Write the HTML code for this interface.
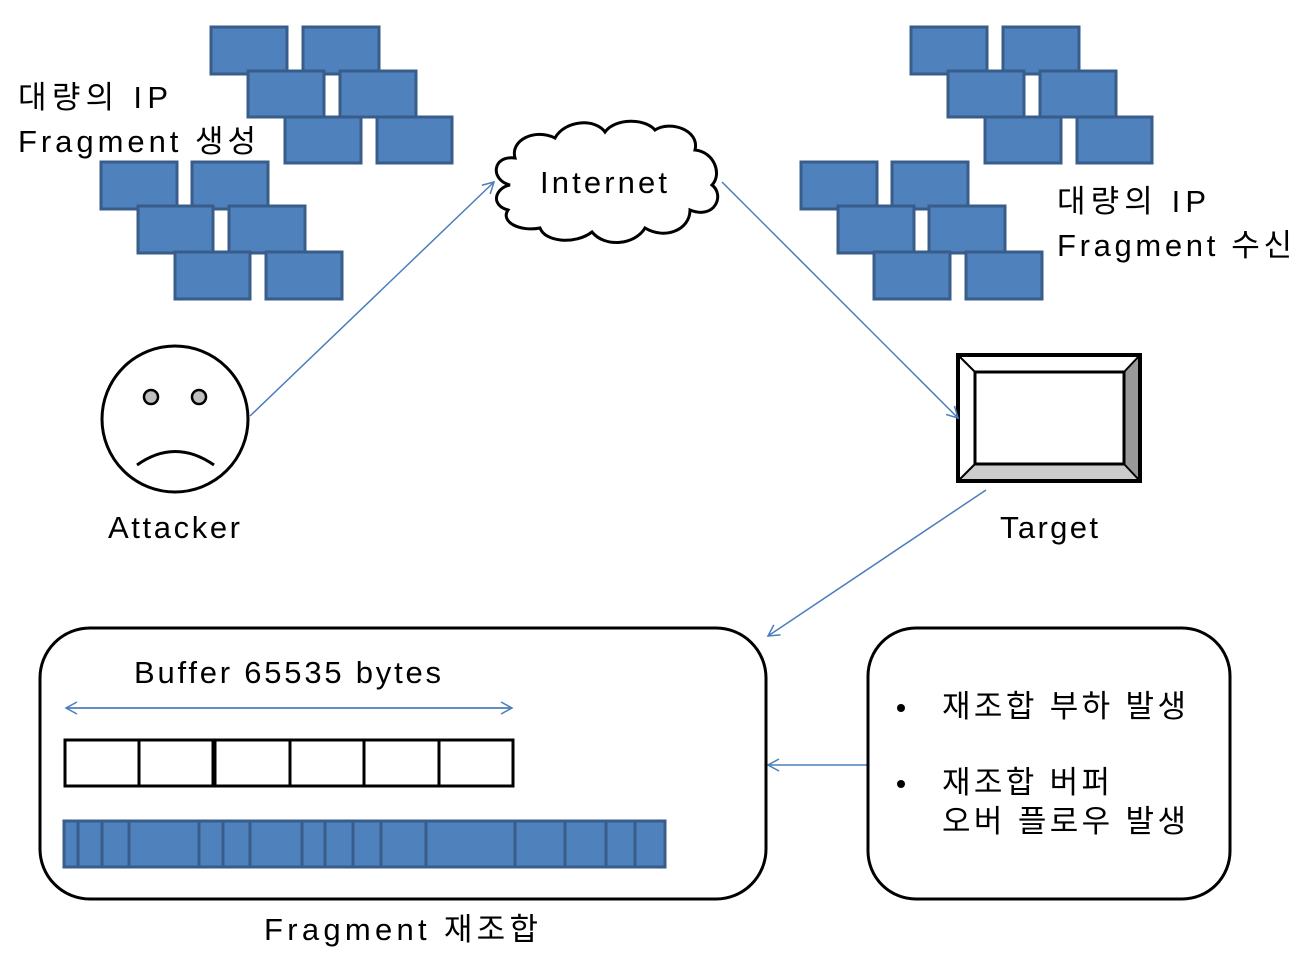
<!DOCTYPE html>
<html><head><meta charset="utf-8"><style>
html,body{margin:0;padding:0;background:#fff;}
svg text{font-family:"Liberation Sans","Noto Sans CJK KR",sans-serif;fill:#000;}
</style></head><body>
<svg width="1294" height="949" viewBox="0 0 1294 949" xmlns="http://www.w3.org/2000/svg">
<defs>
<marker id="ah" markerWidth="14" markerHeight="14" refX="12" refY="7" orient="auto" markerUnits="userSpaceOnUse">
<path d="M1,1 L12,7 L1,13" fill="none" stroke="#4a7ebb" stroke-width="1.5"/>
</marker>
</defs>
<g fill="#4f81bd" stroke="#385d8a" stroke-width="3">
<rect x="211" y="27" width="76" height="47"/><rect x="303" y="27" width="76" height="47"/>
<rect x="248" y="71" width="76" height="46"/><rect x="340" y="71" width="76" height="46"/>
<rect x="285" y="117" width="76" height="46"/><rect x="377" y="117" width="75" height="46"/>
<rect x="101" y="162" width="76" height="47"/><rect x="192" y="162" width="76" height="47"/>
<rect x="138" y="206" width="75" height="47"/><rect x="229" y="206" width="76" height="47"/>
<rect x="175" y="252" width="75" height="47"/><rect x="266" y="252" width="76" height="47"/>
<rect x="911" y="27" width="76" height="47"/><rect x="1003" y="27" width="76" height="47"/>
<rect x="948" y="71" width="76" height="46"/><rect x="1040" y="71" width="76" height="46"/>
<rect x="985" y="117" width="76" height="46"/><rect x="1077" y="117" width="75" height="46"/>
<rect x="801" y="162" width="76" height="47"/><rect x="892" y="162" width="76" height="47"/>
<rect x="838" y="206" width="76" height="47"/><rect x="929" y="206" width="76" height="47"/>
<rect x="874" y="252" width="76" height="47"/><rect x="966" y="252" width="76" height="47"/>
</g>
<g font-size="31">
<text x="18" y="108" textLength="150" lengthAdjust="spacing">대량의 IP</text>
<text x="18" y="152" textLength="238" lengthAdjust="spacing">Fragment 생성</text>
<text x="1057" y="212" textLength="149" lengthAdjust="spacing">대량의 IP</text>
<text x="1057" y="256" textLength="235" lengthAdjust="spacing">Fragment 수신</text>
</g>

<path d="M510,185 C490,180 492,155 515,158 C510,140 535,128 555,138 C565,120 595,118 605,132 C615,118 645,118 655,130 C670,120 700,130 695,150 C715,152 722,175 712,185 C725,195 715,220 690,210 C690,230 665,240 645,228 C635,245 605,248 592,232 C575,245 545,242 540,228 C520,232 500,222 508,210 C490,205 495,188 510,185 Z" fill="#fff" stroke="#000" stroke-width="3"/>
<text x="540" y="193" font-size="31" textLength="127" lengthAdjust="spacing">Internet</text>

<circle cx="175" cy="419" r="73" fill="#fff" stroke="#000" stroke-width="3"/>
<circle cx="151" cy="397" r="7" fill="#bfbfbf" stroke="#000" stroke-width="2.5"/>
<circle cx="199" cy="397" r="7" fill="#bfbfbf" stroke="#000" stroke-width="2.5"/>
<path d="M137,465 Q175,438 214,465" fill="none" stroke="#000" stroke-width="3"/>
<text x="108" y="538" font-size="31" textLength="132" lengthAdjust="spacing">Attacker</text>

<rect x="958" y="355" width="182" height="126" fill="#fff"/>
<polygon points="1124,372 1140,355 1140,481 1124,464" fill="#999"/>
<polygon points="975,464 1124,464 1140,481 958,481" fill="#ccc"/>
<line x1="958" y1="355" x2="975" y2="372" stroke="#000" stroke-width="2"/>
<line x1="1140" y1="355" x2="1124" y2="372" stroke="#000" stroke-width="2"/>
<line x1="958" y1="481" x2="975" y2="464" stroke="#000" stroke-width="2"/>
<line x1="1140" y1="481" x2="1124" y2="464" stroke="#000" stroke-width="2"/>
<rect x="958" y="355" width="182" height="126" fill="none" stroke="#000" stroke-width="4"/>
<rect x="975" y="372" width="149" height="92" fill="#fff" stroke="#000" stroke-width="3"/>
<text x="1000" y="538" font-size="31" textLength="98" lengthAdjust="spacing">Target</text>

<g stroke="#4a7ebb" stroke-width="1.5" fill="none">
<line x1="250" y1="416" x2="494" y2="182" marker-end="url(#ah)"/>
<line x1="722" y1="182" x2="958" y2="418" marker-end="url(#ah)"/>
<line x1="986" y1="490" x2="768" y2="636" marker-end="url(#ah)"/>
<line x1="867" y1="765" x2="768" y2="765" marker-end="url(#ah)"/>
<line x1="66" y1="708" x2="512" y2="708" marker-end="url(#ah)"/>
<line x1="512" y1="708" x2="66" y2="708" marker-end="url(#ah)"/>
</g>

<rect x="40" y="628" width="726" height="271" rx="50" fill="none" stroke="#000" stroke-width="3"/>
<text x="134" y="683" font-size="31" textLength="307" lengthAdjust="spacing">Buffer 65535 bytes</text>
<g fill="#fff" stroke="#000" stroke-width="3">
<rect x="65" y="740" width="74" height="46"/><rect x="139" y="740" width="74" height="46"/>
<rect x="215" y="740" width="75" height="46"/><rect x="290" y="740" width="74" height="46"/>
<rect x="364" y="740" width="75" height="46"/><rect x="439" y="740" width="74" height="46"/>
</g>
<rect x="64" y="821" width="601" height="46" fill="#4f81bd" stroke="#385d8a" stroke-width="3"/>
<g stroke="#385d8a" stroke-width="3">
<line x1="78" y1="821" x2="78" y2="867"/><line x1="102" y1="821" x2="102" y2="867"/>
<line x1="129" y1="821" x2="129" y2="867"/><line x1="199" y1="821" x2="199" y2="867"/>
<line x1="223" y1="821" x2="223" y2="867"/><line x1="250" y1="821" x2="250" y2="867"/>
<line x1="302" y1="821" x2="302" y2="867"/><line x1="325" y1="821" x2="325" y2="867"/>
<line x1="353" y1="821" x2="353" y2="867"/><line x1="381" y1="821" x2="381" y2="867"/>
<line x1="426" y1="821" x2="426" y2="867"/><line x1="515" y1="821" x2="515" y2="867"/>
<line x1="565" y1="821" x2="565" y2="867"/><line x1="606" y1="821" x2="606" y2="867"/>
<line x1="635" y1="821" x2="635" y2="867"/>
</g>
<text x="264" y="940" font-size="31" textLength="274" lengthAdjust="spacing">Fragment 재조합</text>

<rect x="868" y="628" width="362" height="271" rx="48" fill="none" stroke="#000" stroke-width="3"/>
<circle cx="901" cy="708" r="4" fill="#000"/>
<circle cx="901" cy="784" r="4" fill="#000"/>
<g font-size="31">
<text x="942" y="717" textLength="244" lengthAdjust="spacing">재조합 부하 발생</text>
<text x="942" y="793" textLength="168" lengthAdjust="spacing">재조합 버퍼</text>
<text x="942" y="832" textLength="244" lengthAdjust="spacing">오버 플로우 발생</text>
</g>
</svg>
</body></html>
